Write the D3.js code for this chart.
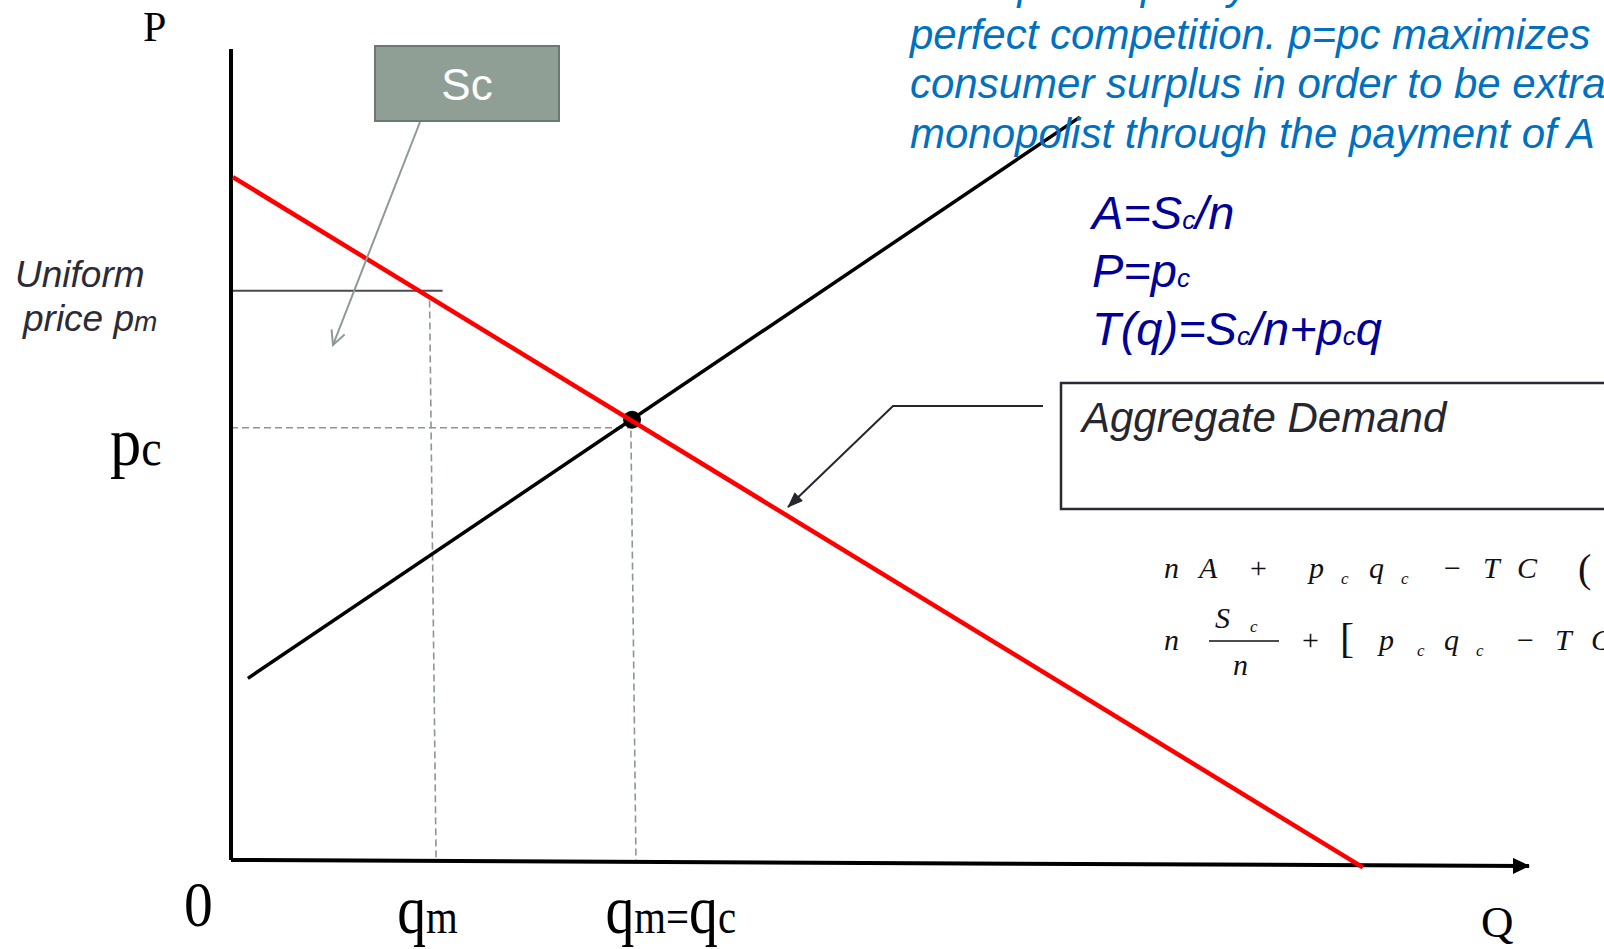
<!DOCTYPE html>
<html>
<head>
<meta charset="utf-8">
<script src="https://cdn.jsdelivr.net/npm/d3@7"></script>
<style>
  body { margin: 0; background: #fff; overflow: hidden; }
  svg { display: block; }
</style>
</head>
<body>
<svg id="chart"></svg>
<script>
// curve data (Q on x, P on y, both 0..100)
var demand = [[0.15, 84.2], [87.2, -0.9]];
var supply = [[1.3, 22.4], [65.4, 91.6]];
var equilibrium = [30.9, 54.3];
var pmCap = [[0.15, 70.2], [16.3, 70.2]];
var qmGuide = [[15.3, 69.0], [15.8, 0]];
var pcGuide = [[0, 53.3], [30.8, 53.3]];
var qcGuide = [[30.8, 54.3], [31.2, 0]];
var xAxisPts = [[0, 0], [100, -0.74]];
var yAxisPts = [[0, 0], [0, 100]];

var xTicks = [0, 15.5, 31, 100];
var xTickText = [[["0", 1]], [["q", 1], ["m", 0]], [["q", 1], ["m=", 0], ["q", 1], ["c", 0]], [["Q", 1]]];
var pcLevel = 53.3, pmLevel = 70.2;

var noteLines = [
  "The optimal policy is to mimic the outcome of",
  "perfect competition. p=pc maximizes",
  "consumer surplus in order to be extracted",
  "monopolist through the payment of A"
];

var width = 1604, height = 949;

var svg = d3.select("#chart")
  .attr("width", width)
  .attr("height", height);

var x = d3.scaleLinear().domain([0, 100]).range([231, 1529]);
var y = d3.scaleLinear().domain([0, 100]).range([860, 49]);

var line = d3.line()
  .x(function (d) { return x(d[0]); })
  .y(function (d) { return y(d[1]); });

var defs = svg.append("defs");
defs.append("marker")
  .attr("id", "axisArrow")
  .attr("markerUnits", "userSpaceOnUse")
  .attr("markerWidth", 18).attr("markerHeight", 16)
  .attr("refX", 16).attr("refY", 8)
  .attr("orient", "auto")
  .append("path").attr("d", "M0,0 L17,8 L0,16 Z").attr("fill", "#000");
defs.append("marker")
  .attr("id", "scArrow")
  .attr("markerUnits", "userSpaceOnUse")
  .attr("markerWidth", 20).attr("markerHeight", 20)
  .attr("refX", 15).attr("refY", 8)
  .attr("orient", "auto")
  .append("path").attr("d", "M1,1 L15,8 L1,15")
  .attr("fill", "none").attr("stroke", "#8c9a92").attr("stroke-width", 2);
defs.append("marker")
  .attr("id", "adArrow")
  .attr("markerUnits", "userSpaceOnUse")
  .attr("markerWidth", 18).attr("markerHeight", 14)
  .attr("refX", 15).attr("refY", 6)
  .attr("orient", "auto")
  .append("path").attr("d", "M0,0 L16,6 L0,12 Z").attr("fill", "#26262e");

// dashed guides
[qmGuide, pcGuide, qcGuide].forEach(function (g) {
  svg.append("path")
    .attr("d", line(g))
    .attr("fill", "none")
    .attr("stroke", "#8a9890")
    .attr("stroke-width", 1.6)
    .attr("stroke-dasharray", "7,4");
});

// uniform price line
svg.append("path")
  .attr("d", line(pmCap))
  .attr("fill", "none")
  .attr("stroke", "#4a4a55")
  .attr("stroke-width", 2);

// axes
svg.append("path")
  .attr("d", line(yAxisPts))
  .attr("stroke", "#000")
  .attr("stroke-width", 4);
svg.append("path")
  .attr("d", line(xAxisPts))
  .attr("stroke", "#000")
  .attr("stroke-width", 4)
  .attr("marker-end", "url(#axisArrow)");

// supply
svg.append("path")
  .attr("d", line(supply))
  .attr("fill", "none")
  .attr("stroke", "#000")
  .attr("stroke-width", 3.5);

svg.append("circle")
  .attr("cx", x(equilibrium[0]))
  .attr("cy", y(equilibrium[1]))
  .attr("r", 9)
  .attr("fill", "#000");

// demand, on top of the dot
svg.append("path")
  .attr("d", line(demand))
  .attr("fill", "none")
  .attr("stroke", "#ff0000")
  .attr("stroke-width", 4.5);

// Sc callout
svg.append("rect")
  .attr("x", 375).attr("y", 46)
  .attr("width", 184).attr("height", 75)
  .attr("fill", "#909f95")
  .attr("stroke", "#6b7a70")
  .attr("stroke-width", 2);
svg.append("text")
  .attr("x", 467).attr("y", 100)
  .attr("text-anchor", "middle")
  .attr("font-family", "Liberation Sans, Arial, sans-serif")
  .attr("font-size", 44)
  .attr("fill", "#fff")
  .text("Sc");
svg.append("line")
  .attr("x1", 420).attr("y1", 122)
  .attr("x2", 333).attr("y2", 345)
  .attr("stroke", "#8c9a92")
  .attr("stroke-width", 2)
  .attr("marker-end", "url(#scArrow)");

// Aggregate demand callout
svg.append("rect")
  .attr("x", 1061).attr("y", 383)
  .attr("width", 600).attr("height", 126)
  .attr("fill", "none")
  .attr("stroke", "#2a2a35")
  .attr("stroke-width", 2.5);
svg.append("text")
  .attr("x", 1082).attr("y", 432)
  .attr("font-family", "Liberation Sans, Arial, sans-serif")
  .attr("font-style", "italic")
  .attr("font-size", 42)
  .attr("fill", "#26262e")
  .text("Aggregate Demand");
svg.append("polyline")
  .attr("points", "1043,406 893,406 788,507")
  .attr("fill", "none")
  .attr("stroke", "#26262e")
  .attr("stroke-width", 2)
  .attr("marker-end", "url(#adArrow)");

// serif axis labels, big glyph + small glyph
function serifLabel(px, py, parts, big, small, sx) {
  var t = svg.append("text")
    .attr("transform", "translate(" + px + "," + py + ") scale(" + sx + ",1)")
    .attr("font-family", "Liberation Serif, Times New Roman, serif")
    .attr("fill", "#000");
  parts.forEach(function (p) {
    t.append("tspan")
      .attr("font-size", p[1] ? big : small)
      .text(p[0]);
  });
}

var xOff = [-47, -35, -28, -48];
xTicks.forEach(function (v, i) {
  if (i == 0) serifLabel(x(v) + xOff[i], 926, xTickText[i], 64, 48, 0.9);
  else if (i == 3) serifLabel(x(v) + xOff[i], 937, xTickText[i], 45, 45, 1);
  else serifLabel(x(v) + xOff[i], 933, xTickText[i], 68, 48, 0.85);
});
serifLabel(143, y(100) - 8, [["P", 1]], 42, 42, 1);
serifLabel(110, y(pcLevel) + 37, [["p", 1], ["c", 0]], 68, 50, 0.92);

// uniform price label
var up = svg.append("g")
  .attr("font-family", "Liberation Sans, Arial, sans-serif")
  .attr("font-style", "italic")
  .attr("fill", "#2b2b36");
up.append("text").attr("x", 15).attr("y", y(pmLevel) - 4)
  .attr("font-size", 37).text("Uniform");
var upt = up.append("text").attr("x", 23).attr("y", y(pmLevel) + 40)
  .attr("font-size", 37);
upt.append("tspan").text("price p");
upt.append("tspan").attr("font-size", 28).text("m");

// blue note
var note = svg.append("g")
  .attr("font-family", "Liberation Sans, Arial, sans-serif")
  .attr("font-style", "italic")
  .attr("font-size", 42)
  .attr("fill", "#0070c0");
noteLines.forEach(function (s, i) {
  note.append("text")
    .attr("x", 910)
    .attr("y", -1 + i * 49.5)
    .text(s);
});

// dark blue formulas
var fml = svg.append("g")
  .attr("font-family", "Liberation Sans, Arial, sans-serif")
  .attr("font-style", "italic")
  .attr("fill", "#000099");
function formula(py, parts) {
  var t = fml.append("text").attr("x", 1092).attr("y", py);
  parts.forEach(function (p) {
    t.append("tspan").attr("font-size", p[1] ? 47 : 26).text(p[0]);
  });
}
formula(229, [["A=S", 1], ["c", 0], ["/n", 1]]);
formula(287, [["P=p", 1], ["c", 0]]);
formula(345, [["T(q)=S", 1], ["c", 0], ["/n+p", 1], ["c", 0], ["q", 1]]);

// black profit formulas
var mth = svg.append("g")
  .attr("font-family", "Liberation Serif, Times New Roman, serif")
  .attr("font-size", 30)
  .attr("fill", "#111");
function glyph(px, py, s, opts) {
  opts = opts || {};
  mth.append("text")
    .attr("x", px).attr("y", py)
    .attr("font-style", opts.up ? "normal" : "italic")
    .attr("font-size", opts.size || 30)
    .text(s);
}
var r1 = 578;
glyph(1164, r1, "n"); glyph(1199, r1, "A"); glyph(1250, r1, "+", {up: 1});
glyph(1309, r1, "p"); glyph(1341, r1 + 6, "c", {size: 17});
glyph(1369, r1, "q"); glyph(1401, r1 + 6, "c", {size: 17});
glyph(1444, r1, "\u2212", {up: 1}); glyph(1483, r1, "T"); glyph(1517, r1, "C");
glyph(1578, r1 + 4, "(", {up: 1, size: 40});
var r2 = 650;
glyph(1164, r2, "n");
glyph(1215, 628, "S"); glyph(1250, 632, "c", {size: 17});
mth.append("line").attr("x1", 1209).attr("x2", 1279).attr("y1", 641).attr("y2", 641)
  .attr("stroke", "#111").attr("stroke-width", 1.5);
glyph(1233, 675, "n");
glyph(1302, r2, "+", {up: 1});
glyph(1340, r2 + 2, "[", {up: 1, size: 42});
glyph(1379, r2, "p"); glyph(1417, r2 + 6, "c", {size: 17});
glyph(1444, r2, "q"); glyph(1476, r2 + 6, "c", {size: 17});
glyph(1517, r2, "\u2212", {up: 1}); glyph(1555, r2, "T"); glyph(1591, r2, "C");
</script>
</body>
</html>
